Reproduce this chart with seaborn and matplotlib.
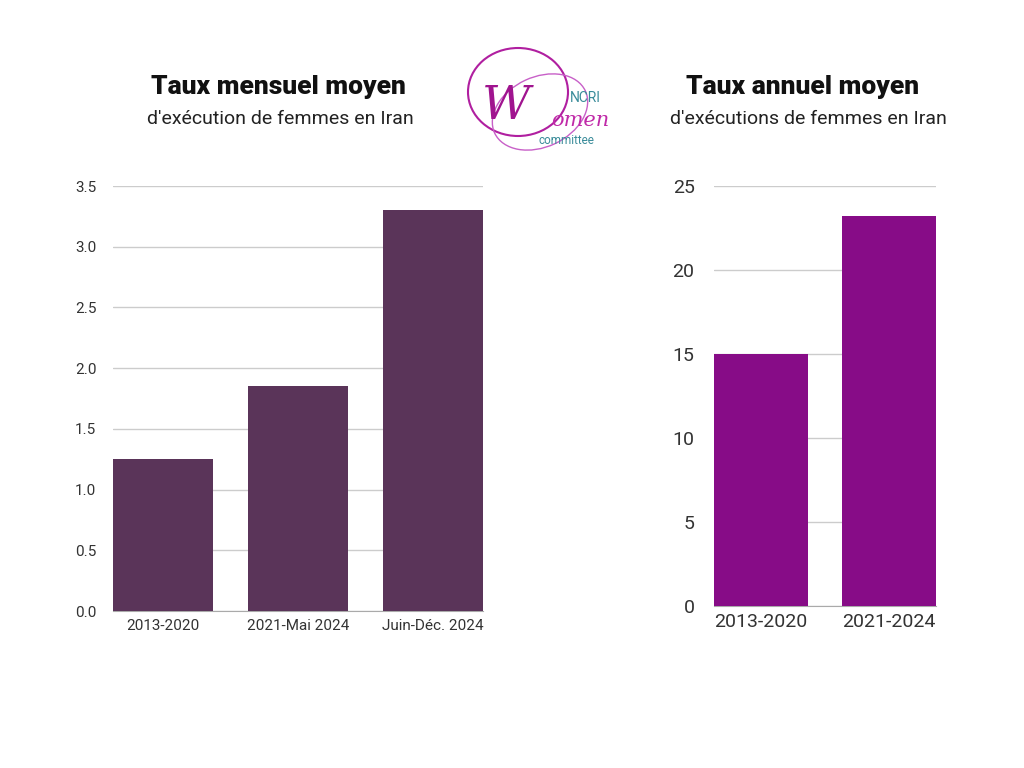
import pandas as pd
import matplotlib.pyplot as plt
import seaborn as sns
from matplotlib.patches import Ellipse

# Data
monthly_periods = ["2013-2020", "2021-Mai 2024", "Juin-Déc. 2024"]
monthly_rates = [1.25, 1.85, 3.3]
annual_periods = ["2013-2020", "2021-2024"]
annual_rates = [15.0, 23.2]

monthly_ticks = [0.0, 0.5, 1.0, 1.5, 2.0, 2.5, 3.0, 3.5]
annual_ticks = [0, 5, 10, 15, 20, 25]

sns.set_style("white")
plt.rcParams["font.family"] = ["Roboto", "DejaVu Sans"]

fig = plt.figure(figsize=(10.24, 7.68), dpi=100)

grid_color = "#cccccc"
tick_color = "#333333"

# --- Left chart: monthly average ---
ax1 = fig.add_axes([0.1104, 0.2044, 0.3613, 0.5534])
df1 = pd.DataFrame({"period": monthly_periods, "rate": monthly_rates})
sns.barplot(data=df1, x="period", y="rate", color="#5a3459", width=0.74,
            saturation=1, linewidth=0, ax=ax1, zorder=3)
ax1.set_ylim(0, 3.5)
ax1.set_xlim(-0.37, 2.37)
ax1.set_yticks(monthly_ticks)
ax1.set_yticklabels([f"{t:.1f}" for t in monthly_ticks])
ax1.yaxis.grid(True, color=grid_color, linewidth=1, zorder=0)
ax1.tick_params(axis="both", length=0, labelsize=11, labelcolor=tick_color)
ax1.tick_params(axis="y", pad=12)
ax1.tick_params(axis="x", pad=6)
ax1.set_xlabel("")
ax1.set_ylabel("")
for s in ["left", "right", "top"]:
    ax1.spines[s].set_visible(False)
ax1.spines["bottom"].set_color("#aaaaaa")

# --- Right chart: annual average ---
ax2 = fig.add_axes([0.6973, 0.2109, 0.2168, 0.5469])
df2 = pd.DataFrame({"period": annual_periods, "rate": annual_rates})
sns.barplot(data=df2, x="period", y="rate", color="#870c87", width=0.74,
            saturation=1, linewidth=0, ax=ax2, zorder=3)
ax2.set_ylim(0, 25)
ax2.set_xlim(-0.37, 1.37)
ax2.set_yticks(annual_ticks)
ax2.yaxis.grid(True, color=grid_color, linewidth=1, zorder=0)
ax2.tick_params(axis="both", length=0, labelsize=14, labelcolor=tick_color)
ax2.tick_params(axis="y", pad=14)
ax2.tick_params(axis="x", pad=5)
ax2.set_xlabel("")
ax2.set_ylabel("")
for s in ["left", "right", "top"]:
    ax2.spines[s].set_visible(False)
ax2.spines["bottom"].set_color("#aaaaaa")

# --- Titles ---
fig.text(278 / 1024, 1 - 87 / 768, "Taux mensuel moyen", ha="center", va="center",
         fontsize=19, fontweight="heavy", color="#111111")
fig.text(280 / 1024, 1 - 119 / 768, "d'exécution de femmes en Iran", ha="center",
         va="center", fontsize=14, color="#222222")
fig.text(803 / 1024, 1 - 87 / 768, "Taux annuel moyen", ha="center", va="center",
         fontsize=19, fontweight="heavy", color="#111111")
fig.text(808 / 1024, 1 - 119 / 768, "d'exécutions de femmes en Iran", ha="center",
         va="center", fontsize=14, color="#222222")

# --- Logo (approximation) ---
logo = fig.add_axes([440 / 1024, 1 - 160 / 768, 200 / 1024, 120 / 768])
logo.set_xlim(0, 200)
logo.set_ylim(120, 0)
logo.axis("off")
logo.add_patch(Ellipse((78, 52), 100, 88, fill=False, ec="#b01fa0", lw=1.5))
logo.add_patch(Ellipse((100, 72), 100, 70, angle=-25, fill=False, ec="#c860c8", lw=1))
logo.text(66, 66, "W", fontsize=34, family="DejaVu Serif", style="italic",
          color="#a0148f", ha="center", va="center")
logo.text(140, 80, "omen", fontsize=15, family="DejaVu Serif", style="italic",
          color="#c02aa8", ha="center", va="center")
logo.text(145, 58, "NCRI", fontsize=10, color="#3a8c9a", ha="center", va="center")
logo.text(126, 100, "committee", fontsize=8.5, color="#3a8c9a", ha="center", va="center")

fig.savefig("out.png", dpi=100, facecolor="white")
